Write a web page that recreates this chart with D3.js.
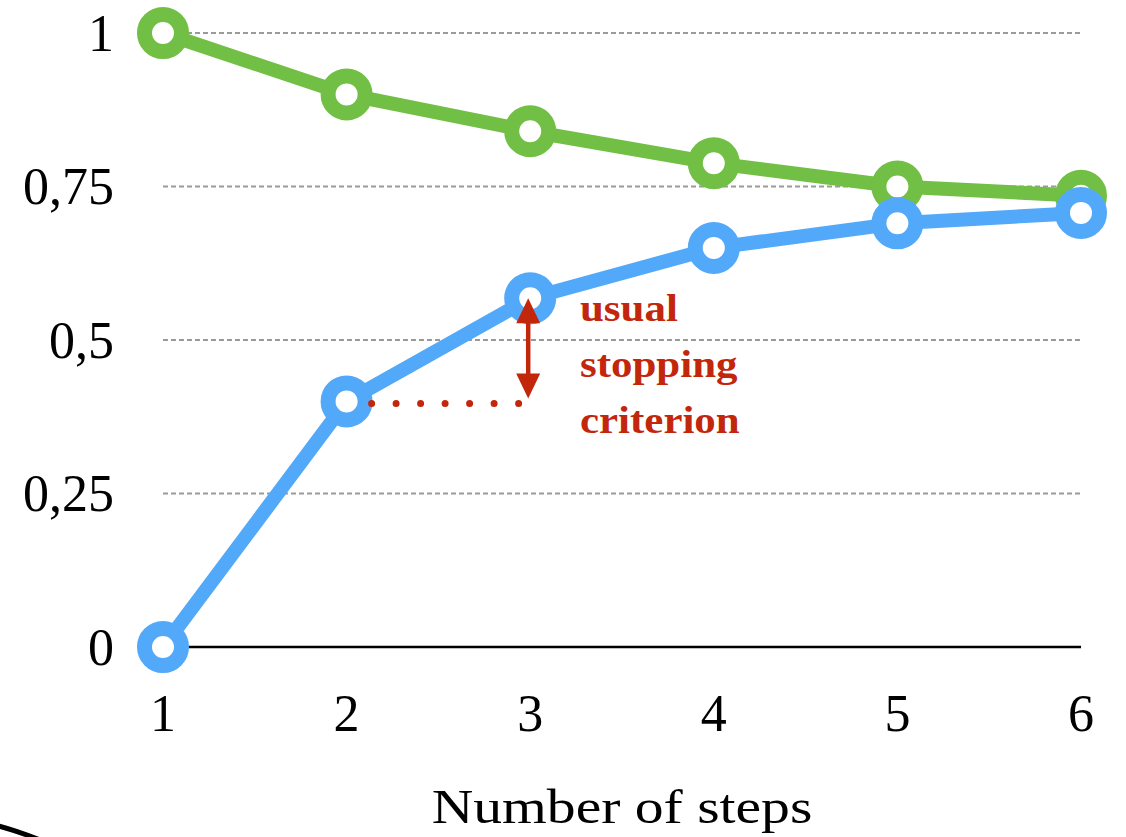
<!DOCTYPE html>
<html>
<head>
<meta charset="utf-8">
<script src="https://cdn.jsdelivr.net/npm/d3@7"></script>
<style>
  html, body { margin: 0; padding: 0; background: #fff; }
  svg { display: block; }
  text { font-family: "Liberation Serif", "DejaVu Serif", serif; }
</style>
</head>
<body>
<svg id="chart" width="1126" height="837"></svg>
<script>
// Steps on the x axis
const steps = [1, 2, 3, 4, 5, 6];
// Upper curve (green) and lower curve (blue)
const upperValues = [1.0, 0.9, 0.84, 0.788, 0.75, 0.735];
const lowerValues = [0.0, 0.4, 0.568, 0.65, 0.69, 0.707];
// Tick labels on the y axis
const yTicks = [0, 0.25, 0.5, 0.75, 1];
const yTickLabels = ["0", "0,25", "0,5", "0,75", "1"];
const xLabel = "Number of steps";
const noteLines = ["usual", "stopping", "criterion"];

const svg = d3.select("#chart");
const x = d3.scaleLinear().domain([1, 6]).range([163, 1081]);
const y = d3.scaleLinear().domain([0, 1]).range([647, 33]);

const GREEN = "#71bf44", BLUE = "#53a9f9", RED = "#c3270b";

// Dashed grid lines
svg.append("g").selectAll("line")
  .data(yTicks.filter(d => d > 0))
  .join("line")
  .attr("x1", x(1)).attr("x2", x(6))
  .attr("y1", d => y(d)).attr("y2", d => y(d))
  .attr("stroke", "#9a9a9a").attr("stroke-width", 2)
  .attr("stroke-dasharray", "5 3");

// Baseline
svg.append("line")
  .attr("x1", x(1)).attr("x2", x(6))
  .attr("y1", y(0)).attr("y2", y(0))
  .attr("stroke", "#000").attr("stroke-width", 2.5);

// Y tick labels
svg.append("g").selectAll("text")
  .data(yTicks)
  .join("text")
  .attr("x", 114).attr("y", d => y(d))
  .attr("text-anchor", "end").attr("dominant-baseline", "central")
  .attr("font-size", 52)
  .text((d, i) => yTickLabels[i]);

// X tick labels
svg.append("g").selectAll("text")
  .data(steps)
  .join("text")
  .attr("x", d => x(d)).attr("y", 731)
  .attr("text-anchor", "middle")
  .attr("font-size", 52)
  .text(d => d);

// Axis title
svg.append("text")
  .attr("transform", "translate(622,823) scale(1.2,1)")
  .attr("text-anchor", "middle")
  .attr("font-size", 48)
  .text(xLabel);

// Series lines and markers
const line = d3.line().x((d, i) => x(steps[i])).y(d => y(d));
[[upperValues, GREEN], [lowerValues, BLUE]].forEach(([vals, col]) => {
  svg.append("path")
    .datum(vals)
    .attr("d", line)
    .attr("fill", "none").attr("stroke", col)
    .attr("stroke-width", 14).attr("stroke-linejoin", "round");
  svg.append("g").selectAll("circle")
    .data(vals)
    .join("circle")
    .attr("cx", (d, i) => x(steps[i])).attr("cy", d => y(d))
    .attr("r", 18.5)
    .attr("fill", "#fff").attr("stroke", col).attr("stroke-width", 15);
});

// Dotted reference level from step 2
svg.append("line")
  .attr("x1", x(2) + 25).attr("x2", x(3) - 10)
  .attr("y1", y(lowerValues[1]) + 2).attr("y2", y(lowerValues[1]) + 2)
  .attr("stroke", RED).attr("stroke-width", 7)
  .attr("stroke-linecap", "round")
  .attr("stroke-dasharray", "0 24.5");

// Double arrow between the two blue levels
const ax = x(3) - 2;
const aTop = y(lowerValues[2]);
const aBot = y(lowerValues[1]) - 3;
const head = 25, half = 12;
svg.append("line")
  .attr("x1", ax).attr("x2", ax)
  .attr("y1", aTop + head - 2).attr("y2", aBot - head + 2)
  .attr("stroke", RED).attr("stroke-width", 4.5);
svg.append("path")
  .attr("d", `M${ax},${aTop} L${ax + half},${aTop + head} L${ax - half},${aTop + head} Z`)
  .attr("fill", RED);
svg.append("path")
  .attr("d", `M${ax},${aBot} L${ax + half},${aBot - head} L${ax - half},${aBot - head} Z`)
  .attr("fill", RED);

// Annotation text
svg.append("g")
  .attr("transform", "translate(580,0) scale(1.13,1)")
  .selectAll("text")
  .data(noteLines)
  .join("text")
  .attr("x", 0).attr("y", (d, i) => 321 + i * 56)
  .attr("fill", RED).attr("font-weight", "bold")
  .attr("font-size", 38)
  .text(d => d);

// Stray curve stroke at the lower left edge
svg.append("path")
  .attr("d", "M-5,825 Q15,830 40,840")
  .attr("fill", "none").attr("stroke", "#000").attr("stroke-width", 5);
</script>
</body>
</html>
